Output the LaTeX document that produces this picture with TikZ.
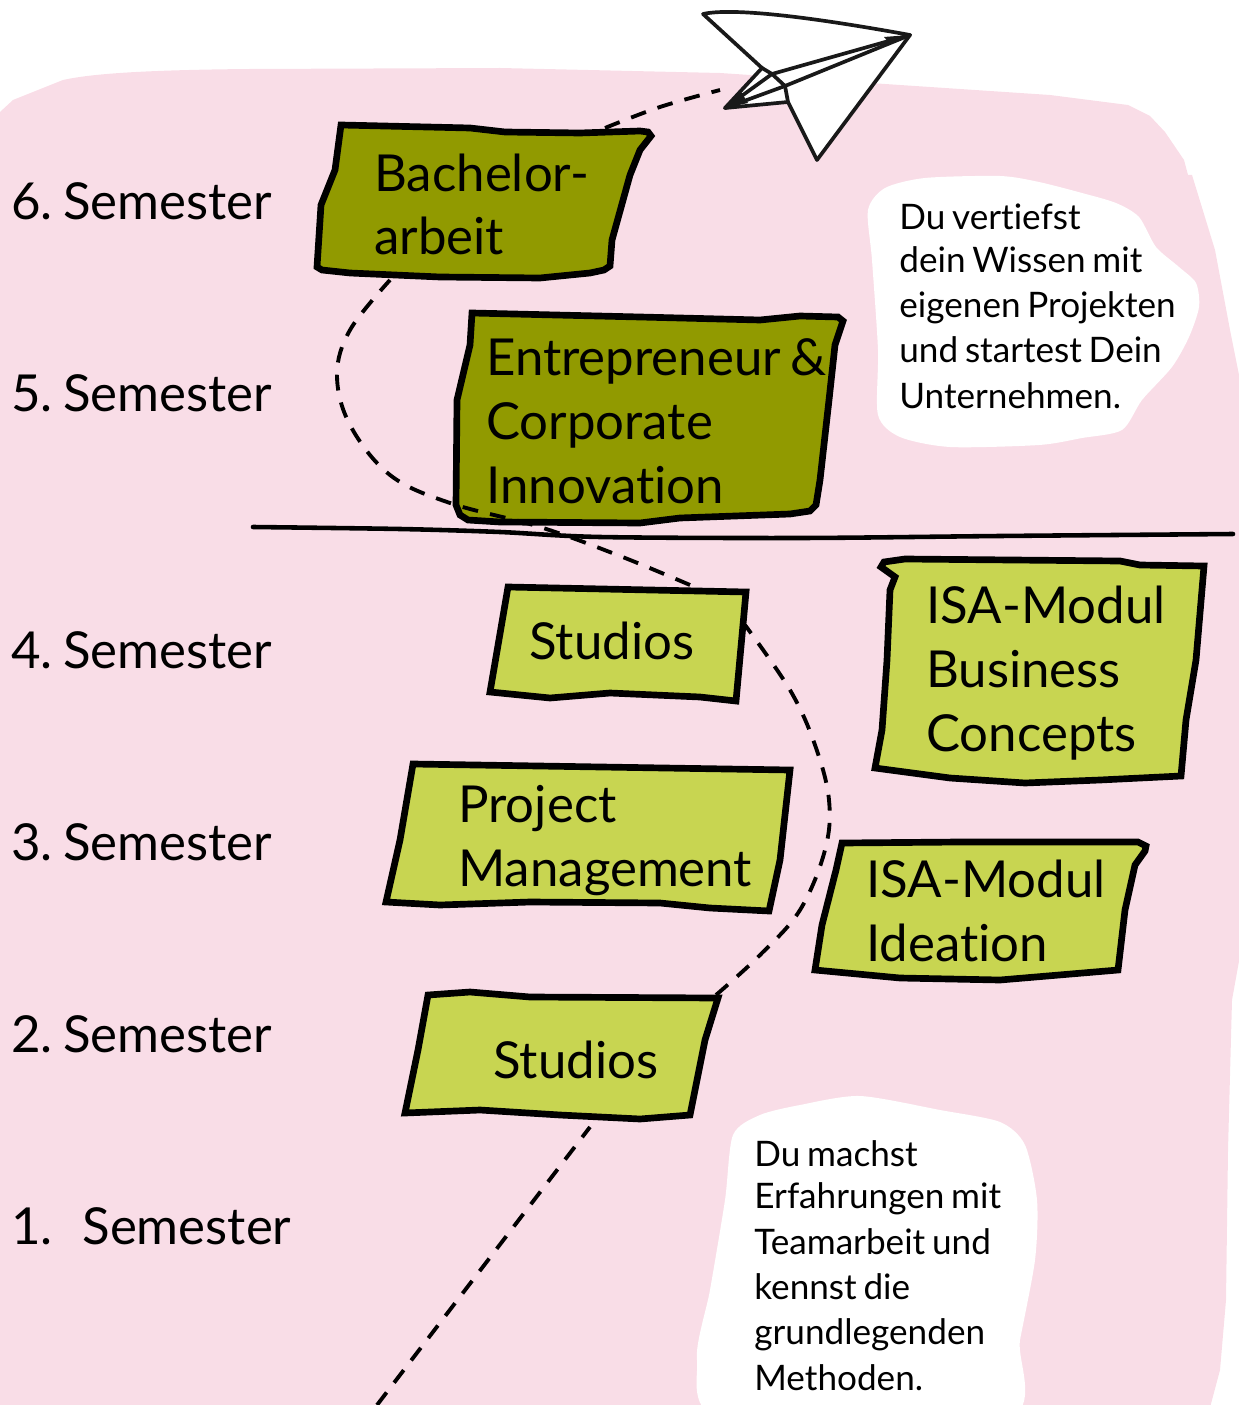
\documentclass[tikz,border=0pt]{standalone}
\usepackage{fontspec}
\setmainfont{Lato}[WordSpace=0.75, Ligatures=NoCommon]
\definecolor{pinkbg}{HTML}{F9DDE7}
\definecolor{olivedark}{HTML}{919A00}
\definecolor{olivelight}{HTML}{C8D551}
\tikzset{
  semlabel/.style={anchor=base west, inner sep=0pt, font=\fontsize{29}{36.3}\selectfont},
  boxlabel/.style={anchor=base west, inner sep=0pt, align=left, font=\fontsize{29}{36.3}\selectfont},
  notelabel/.style={anchor=base west, inner sep=0pt, align=left, font=\fontsize{20}{25.8}\selectfont},
  darkbox/.style={draw=black, fill=olivedark, line width=3.8pt, line join=miter},
  lightbox/.style={draw=black, fill=olivelight, line width=3.8pt, line join=miter},
  blob/.style={fill=white},
  pathline/.style={draw=black, line width=2.2pt, dash pattern=on 9pt off 7pt},
  planeline/.style={draw=black!90, line width=2.1pt, line join=round, line cap=round}
}
\begin{document}
\begin{tikzpicture}[x=0.02cm, y=-0.02cm]
    \useasboundingbox (0,0) rectangle (1239,1405);
    \clip (0,0) rectangle (1239,1405);
    \fill[pinkbg] (-10,116) -- (0,112) -- (13,100) -- (33,92) -- (63,80) .. controls (90,74) and (140,70) .. (250,69)
      -- (500,68) -- (720,73) -- (900,85) -- (1050,95) -- (1128,105) -- (1150,116) -- (1165,132) -- (1184,160) -- (1188,175) -- (1192,175)
      -- (1215,250) -- (1230,330) -- (1240,380) -- (1250,900) -- (1232,1000) -- (1228,1150) -- (1226,1300)
      -- (1220,1370) -- (1208,1415) -- (-10,1415) -- cycle;
    \fill[blob] plot[smooth cycle, tension=.45] coordinates {(868,210) (885,188) (925,178) (1000,176) (1039,182) (1082,193) (1116,203) (1139,217) (1156,247) (1179,267) (1196,283) (1199,307) (1189,337) (1172,367) (1142,400) (1122,430) (1082,438) (1039,445) (950,447) (900,437) (878,415) (878,350) (872,260)};
    \fill[blob] plot[smooth cycle, tension=.45] coordinates {(733,1135) (760,1115) (800,1105) (860,1096) (940,1110) (1000,1122) (1025,1145) (1037,1200) (1035,1260) (1020,1340) (1005,1420) (725,1420) (697,1360) (710,1290) (725,1200)};

    \coordinate (start) at (377,1405);
    \coordinate (outA) at (590,1127);
    \coordinate (inB) at (716,995);
    \coordinate (outB) at (745,625);
    \coordinate (inC) at (690,585);
    \coordinate (outC) at (390,280);
    \coordinate (inD) at (605,128);
    \coordinate (tailin) at (720,90);
    \coordinate (ruleL) at (253,527);
    \coordinate (ruleR) at (1233,534);

    \draw[black, line width=2.6pt, line cap=round] plot[smooth, tension=.5] coordinates {(ruleL) (400,529) (500,532) (600,537) (800,538) (1000,536) (ruleR)};

    \draw[darkbox] (341,125) -- (470,128) -- (505,132) -- (580,133) -- (640,131) -- (648,132) -- (651,136) -- (640,150) -- (630,175) -- (612,240) -- (610,266) -- (604,270) -- (590,273) -- (540,278) -- (440,277) -- (350,273) -- (322,270) -- (317,267) -- (321,205) -- (335,170) -- cycle;
    \draw[darkbox] (472,313) -- (640,317) -- (760,320) -- (800,316) -- (838,317) -- (843,321) -- (835,345) -- (829,400) -- (820,480) -- (816,505) -- (810,511) -- (790,514) -- (680,518) -- (640,523) -- (500,522) -- (468,520) -- (460,515) -- (456,505) -- (457,400) -- (470,345) -- cycle;
    \draw[lightbox] (508,587) -- (746,592) -- (736,701) -- (700,697) -- (610,693) -- (550,698) -- (490,692) -- cycle;
    \draw[lightbox] (884,562) -- (905,559) -- (1120,561) -- (1140,565) -- (1204,566) -- (1196,660) -- (1186,720) -- (1181,776) -- (1100,780) -- (1025,783) -- (950,778) -- (875,768) -- (882,730) -- (887,660) -- (890,590) -- (895,577) -- (881,567) -- cycle;
    \draw[lightbox] (413,764) -- (790,770) -- (780,860) -- (769,911) -- (710,908) -- (660,903) -- (530,902) -- (440,905) -- (386,902) -- (400,840) -- cycle;
    \draw[lightbox] (842,843) -- (960,842) -- (1138,842) -- (1146,846) -- (1145,851) -- (1135,865) -- (1125,910) -- (1118,970) -- (1000,980) -- (900,978) -- (815,970) -- (822,925) -- (836,870) -- cycle;
    \draw[lightbox] (428,995) -- (470,992) -- (530,997) -- (718,998) -- (705,1040) -- (690,1115) -- (640,1119) -- (560,1115) -- (480,1110) -- (405,1113) -- (418,1050) -- cycle;

    \draw[pathline] (start) -- (outA);
    \draw[pathline] plot[smooth, tension=.6] coordinates {(inB) (760,955) (800,910) (825,850) (829,800) (815,745) (790,690) (outB)};
    \draw[pathline] plot[smooth, tension=.6] coordinates {(inC) (620,556) (540,527) (450,503) (390,475) (350,425) (337,375) (350,330) (outC)};
    \draw[pathline] plot[smooth, tension=.6] coordinates {(inD) (660,107) (tailin)};

    \filldraw[planeline, fill=white] (703,14) .. controls (730,8) and (800,15) .. (910,35) -- (817,160) -- (788,102) -- (725,108) -- (762,68) -- cycle;
    \draw[planeline] (910,35) -- (772,74) -- (725,108);
    \draw[planeline] (910,35) -- (785,86) -- (725,108);
    \draw[planeline] (762,68) -- (772,74) -- (785,86) -- (788,102);
    \fill[black!90] (725,108) -- (748,103) -- (741,92) -- cycle;
    \fill[black!90] (910,35) -- (884,37) -- (890,44) -- cycle;

    \node[semlabel] (sem6) at (11,220){6.\kern-2.3pt{} Semester};
    \node[semlabel] (sem5) at (11,412){5.\kern-2.3pt{} Semester};
    \node[semlabel] (sem4) at (11,668){4.\kern-2.3pt{} Semester};
    \node[semlabel] (sem3) at (11,860){3.\kern-2.3pt{} Semester};
    \node[semlabel] (sem2) at (11,1052){2.\kern-2.3pt{} Semester};
    \node[semlabel] (sem1) at (11,1244){1.\hspace{8.8pt} Semester};

    \node[boxlabel] (thesis) at (374,255){Bachelor-\\arbeit};
    \node[boxlabel] (entre) at (486,503){Entrepreneur \&\\Corporate\\Innovation};
    \node[boxlabel] (studiosB) at (529,659){Studios};
    \node[boxlabel] (business) at (926,751){ISA-Modul\\Business\\Concepts};
    \node[boxlabel] (project) at (458,886){Project\\Management};
    \node[boxlabel] (ideation) at (866,961){ISA-Modul\\Ideation};
    \node[boxlabel] (studiosA) at (493,1078){Studios};

    \node[notelabel] (noteT) at (899,408){Du vertiefst\\[-1.4pt]dein Wissen mit\\eigenen Projekten\\und startest Dein\\Unternehmen.};
    \node[notelabel] (noteB) at (754,1390){Du machst\\[-2pt]Erfahrungen mit\\Teamarbeit und\\kennst die\\grundlegenden\\Methoden.};
\end{tikzpicture}
\end{document}
